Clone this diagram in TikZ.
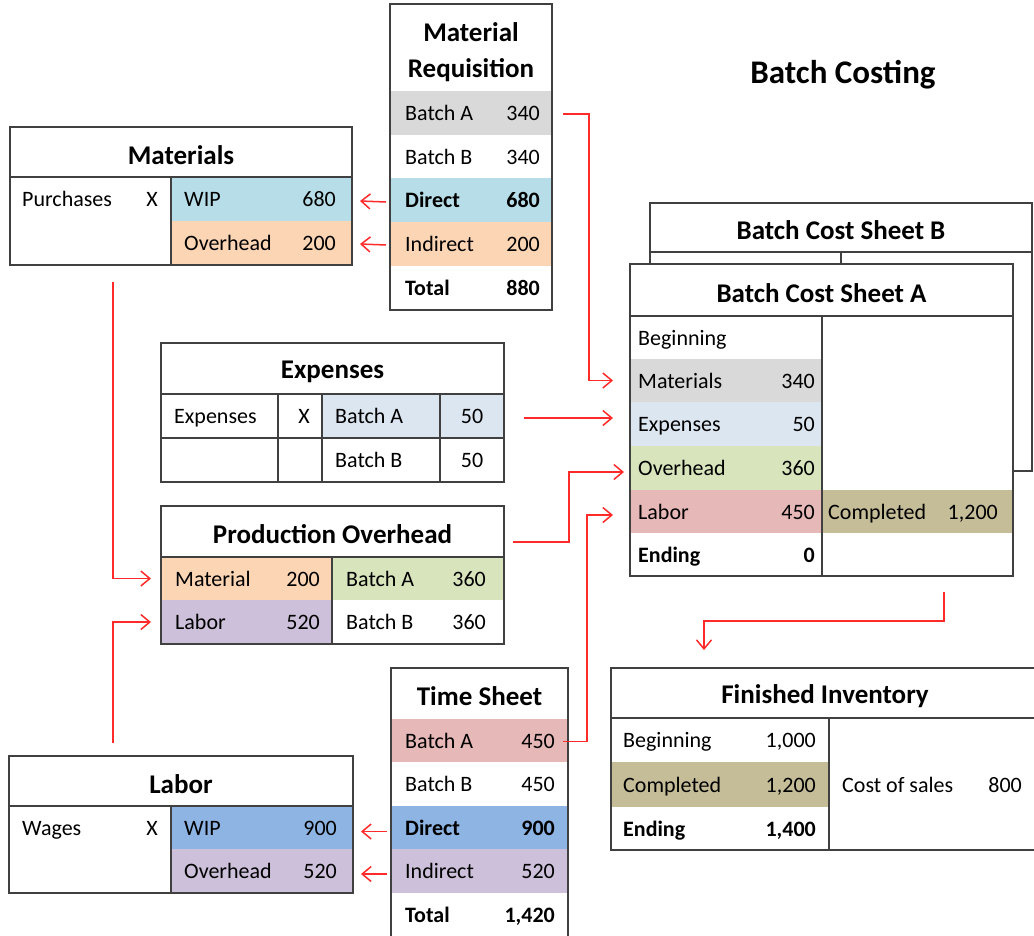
\documentclass[tikz,border=0pt]{standalone}
\usepackage{fontspec}
\setmainfont{Carlito}
\usetikzlibrary{arrows.meta,calc}
\definecolor{cgray}{HTML}{D9D9D9}
\definecolor{caqua}{HTML}{B7DEE8}
\definecolor{cpeach}{HTML}{FCD5B4}
\definecolor{cexp}{HTML}{DCE6F1}
\definecolor{cgreen}{HTML}{D8E4BC}
\definecolor{cpink}{HTML}{E6B8B7}
\definecolor{clav}{HTML}{CCC0DA}
\definecolor{cblue}{HTML}{8DB4E2}
\definecolor{ctan}{HTML}{C4BD97}
\definecolor{cline}{HTML}{404040}
\definecolor{carrow}{HTML}{FF2A2A}
\newcommand{\mkcell}[6]{\node[cellbox,fill=#6,minimum width={#4pt-#2pt},minimum height={#5pt-#3pt},anchor=north west] (#1) at (#2,#3) {};}
\tikzset{
  cellbox/.style={draw=none,inner sep=0pt,outer sep=0pt,rectangle},
  frame/.style={draw=cline,line width=2pt},
  txt/.style={inner sep=0pt,text height=1.45ex,text depth=.3ex,yshift=-5pt,font=\fontsize{22}{24}\selectfont},
  btxt/.style={txt,font=\fontsize{22}{24}\selectfont\bfseries},
  ttl/.style={inner sep=0pt,align=center,yshift=-3pt,font=\fontsize{27}{36}\selectfont\bfseries},
  arr/.style={draw=carrow,line width=1.5pt,-{Straight Barb[length=9pt,width=15pt]}},
}
\begin{document}
\begin{tikzpicture}[x=1pt,y=-1pt]
\useasboundingbox (0,0) rectangle (1034,935);
\clip (0,0) rectangle (1034,935);
\fill[white] (0,0) rectangle (1034,935);

% ---------------- Title
\node[inner sep=0pt,font=\fontsize{33}{38}\selectfont\bfseries] (maintitle) at (843,75) {Batch Costing};

% ---------------- Material Requisition
\mkcell{mrT}{390}{4}{552}{91}{white}
\mkcell{mrA}{390}{91}{552}{135}{cgray}
\mkcell{mrB}{390}{135}{552}{178}{white}
\mkcell{mrD}{390}{178}{552}{222}{caqua}
\mkcell{mrI}{390}{222}{552}{266}{cpeach}
\mkcell{mrTot}{390}{266}{552}{310}{white}
\draw[frame] (390,4) rectangle (552,310);
\node[ttl,yshift=-2pt] (mrTitle) at (mrT.center) {Material\\Requisition};
\node[txt,anchor=west] (mrAl) at ([xshift=15pt]mrA.west) {Batch A};
\node[txt,anchor=east] (mrAv) at ([xshift=-12pt]mrA.east) {340};
\node[txt,anchor=west] (mrBl) at ([xshift=15pt]mrB.west) {Batch B};
\node[txt,anchor=east] (mrBv) at ([xshift=-12pt]mrB.east) {340};
\node[btxt,anchor=west] (mrDl) at ([xshift=15pt]mrD.west) {Direct};
\node[btxt,anchor=east] (mrDv) at ([xshift=-12pt]mrD.east) {680};
\node[txt,anchor=west] (mrIl) at ([xshift=15pt]mrI.west) {Indirect};
\node[txt,anchor=east] (mrIv) at ([xshift=-12pt]mrI.east) {200};
\node[btxt,anchor=west] (mrTl) at ([xshift=15pt]mrTot.west) {Total};
\node[btxt,anchor=east] (mrTv) at ([xshift=-12pt]mrTot.east) {880};

% ---------------- Materials
\mkcell{matT}{10}{127}{352}{177}{white}
\mkcell{matL}{10}{177}{171}{265}{white}
\mkcell{matW}{171}{177}{352}{221}{caqua}
\mkcell{matO}{171}{221}{352}{265}{cpeach}
\draw[frame] (10,127) rectangle (352,265);
\draw[frame] (matT.south west) -- (matT.south east);
\draw[frame] (matL.north east) -- (matL.south east);
\node[ttl] (matTitle) at (matT.center) {Materials};
\node[txt,anchor=west] (matPl) at ($(matL.north west)+(12,22)$) {Purchases};
\node[txt,anchor=center] (matPx) at ($(matL.north west)+(142,22)$) {X};
\node[txt,anchor=west] (matWl) at ([xshift=13pt]matW.west) {WIP};
\node[txt,anchor=east] (matWv) at ([xshift=-16pt]matW.east) {680};
\node[txt,anchor=west] (matOl) at ([xshift=13pt]matO.west) {Overhead};
\node[txt,anchor=east] (matOv) at ([xshift=-16pt]matO.east) {200};

% ---------------- Expenses
\mkcell{expT}{161}{343}{504}{394}{white}
\mkcell{e11}{161}{394}{278}{438}{white}
\mkcell{e12}{278}{394}{322}{438}{white}
\mkcell{e13}{322}{394}{440}{438}{cexp}
\mkcell{e14}{440}{394}{504}{438}{cexp}
\mkcell{e21}{161}{438}{278}{482}{white}
\mkcell{e22}{278}{438}{322}{482}{white}
\mkcell{e23}{322}{438}{440}{482}{white}
\mkcell{e24}{440}{438}{504}{482}{white}
\draw[frame] (161,343) rectangle (504,482);
\draw[frame] (expT.south west) -- (expT.south east);
\draw[frame] (e11.south west) -- (e14.south east);
\draw[frame] (e12.north west) -- (e22.south west);
\draw[frame] (e13.north west) -- (e23.south west);
\draw[frame] (e14.north west) -- (e24.south west);
\node[ttl] (expTitle) at (expT.center) {Expenses};
\node[txt,anchor=west] (e11t) at ([xshift=13pt]e11.west) {Expenses};
\node[txt,anchor=east] (e12t) at ([xshift=-12pt]e12.east) {X};
\node[txt,anchor=west] (e13t) at ([xshift=13pt]e13.west) {Batch A};
\node[txt] (e14t) at (e14.center) {50};
\node[txt,anchor=west] (e23t) at ([xshift=13pt]e23.west) {Batch B};
\node[txt] (e24t) at (e24.center) {50};

% ---------------- Production Overhead
\mkcell{poT}{161}{506}{504}{557}{white}
\mkcell{poM}{161}{557}{332}{600}{cpeach}
\mkcell{poL}{161}{600}{332}{644}{clav}
\mkcell{poA}{332}{557}{504}{600}{cgreen}
\mkcell{poB}{332}{600}{504}{644}{white}
\draw[frame] (161,506) rectangle (504,644);
\draw[frame] (poT.south west) -- (poT.south east);
\draw[frame] (poA.north west) -- (poB.south west);
\node[ttl] (poTitle) at (poT.center) {Production Overhead};
\node[txt,anchor=west] (poMl) at ([xshift=14pt]poM.west) {Material};
\node[txt,anchor=east] (poMv) at ([xshift=-12pt]poM.east) {200};
\node[txt,anchor=west] (poLl) at ([xshift=14pt]poL.west) {Labor};
\node[txt,anchor=east] (poLv) at ([xshift=-12pt]poL.east) {520};
\node[txt,anchor=west] (poAl) at ([xshift=14pt]poA.west) {Batch A};
\node[txt,anchor=east] (poAv) at ([xshift=-18pt]poA.east) {360};
\node[txt,anchor=west] (poBl) at ([xshift=14pt]poB.west) {Batch B};
\node[txt,anchor=east] (poBv) at ([xshift=-18pt]poB.east) {360};

% ---------------- Batch Cost Sheet B
\mkcell{cbT}{650}{203}{1032}{252}{white}
\mkcell{cbBody}{650}{252}{1032}{471}{white}
\draw[frame] (650,203) rectangle (1032,471);
\draw[frame] (cbT.south west) -- (cbT.south east);
\draw[frame] (cbT.south) -- (cbBody.south);
\node[ttl] (cbTitle) at (cbT.center) {Batch Cost Sheet B};

% ---------------- Batch Cost Sheet A
\mkcell{caT}{630}{264}{1013}{316}{white}
\mkcell{caBeg}{630}{316}{822}{359}{white}
\mkcell{caMat}{630}{359}{822}{402}{cgray}
\mkcell{caExp}{630}{402}{822}{446}{cexp}
\mkcell{caOvh}{630}{446}{822}{490}{cgreen}
\mkcell{caLab}{630}{490}{822}{533}{cpink}
\mkcell{caEnd}{630}{533}{822}{576}{white}
\mkcell{caR1}{822}{316}{1013}{490}{white}
\mkcell{caCom}{822}{490}{1013}{533}{ctan}
\mkcell{caR3}{822}{533}{1013}{576}{white}
\draw[frame] (630,264) rectangle (1013,576);
\draw[frame] (caT.south west) -- (caT.south east);
\draw[frame] (caR1.north west) -- (caR3.south west);
\node[ttl] (caTitle) at (caT.center) {Batch Cost Sheet A};
\node[txt,anchor=west] (caBegl) at ([xshift=8pt]caBeg.west) {Beginning};
\node[txt,anchor=west] (caMatl) at ([xshift=8pt]caMat.west) {Materials};
\node[txt,anchor=east] (caMatv) at ([xshift=-7pt]caMat.east) {340};
\node[txt,anchor=west] (caExpl) at ([xshift=8pt]caExp.west) {Expenses};
\node[txt,anchor=east] (caExpv) at ([xshift=-7pt]caExp.east) {50};
\node[txt,anchor=west] (caOvhl) at ([xshift=8pt]caOvh.west) {Overhead};
\node[txt,anchor=east] (caOvhv) at ([xshift=-7pt]caOvh.east) {360};
\node[txt,anchor=west] (caLabl) at ([xshift=8pt]caLab.west) {Labor};
\node[txt,anchor=east] (caLabv) at ([xshift=-7pt]caLab.east) {450};
\node[btxt,anchor=west] (caEndl) at ([xshift=8pt]caEnd.west) {Ending};
\node[btxt,anchor=east] (caEndv) at ([xshift=-7pt]caEnd.east) {0};
\node[txt,anchor=west] (caComl) at ([xshift=6pt]caCom.west) {Completed};
\node[txt,anchor=east] (caComv) at ([xshift=-15pt]caCom.east) {1,200};

% ---------------- Finished Inventory
\mkcell{fiT}{611}{668}{1045}{718}{white}
\mkcell{fiBeg}{611}{718}{829}{762}{white}
\mkcell{fiCom}{611}{762}{829}{807}{ctan}
\mkcell{fiEnd}{611}{807}{829}{850}{white}
\mkcell{fiR}{829}{718}{1045}{850}{white}
\draw[frame] (611,668) rectangle (1045,850);
\draw[frame] (fiT.south west) -- (fiT.south east);
\draw[frame] (fiR.north west) -- (fiR.south west);
\node[ttl] (fiTitle) at (825,693) {Finished Inventory};
\node[txt,anchor=west] (fiBegl) at ([xshift=12pt]fiBeg.west) {Beginning};
\node[txt,anchor=east] (fiBegv) at ([xshift=-13pt]fiBeg.east) {1,000};
\node[txt,anchor=west] (fiComl) at ([xshift=12pt]fiCom.west) {Completed};
\node[txt,anchor=east] (fiComv) at ([xshift=-13pt]fiCom.east) {1,200};
\node[btxt,anchor=west] (fiEndl) at ([xshift=12pt]fiEnd.west) {Ending};
\node[btxt,anchor=east] (fiEndv) at ([xshift=-13pt]fiEnd.east) {1,400};
\node[txt,anchor=west] (fiCsl) at (842,785) {Cost of sales};
\node[txt,anchor=east] (fiCsv) at (1022,785) {800};

% ---------------- Labor
\mkcell{labT}{9}{756}{353}{806}{white}
\mkcell{labL}{9}{806}{171}{893}{white}
\mkcell{labW}{171}{806}{353}{849}{cblue}
\mkcell{labO}{171}{849}{353}{893}{clav}
\draw[frame] (9,756) rectangle (353,893);
\draw[frame] (labT.south west) -- (labT.south east);
\draw[frame] (labL.north east) -- (labL.south east);
\node[ttl] (labTitle) at (labT.center) {Labor};
\node[txt,anchor=west] (labWgl) at ($(labL.north west)+(13,22)$) {Wages};
\node[txt,anchor=center] (labWgx) at ($(labL.north west)+(143,22)$) {X};
\node[txt,anchor=west] (labWl) at ([xshift=13pt]labW.west) {WIP};
\node[txt,anchor=east] (labWv) at ([xshift=-16pt]labW.east) {900};
\node[txt,anchor=west] (labOl) at ([xshift=13pt]labO.west) {Overhead};
\node[txt,anchor=east] (labOv) at ([xshift=-16pt]labO.east) {520};

% ---------------- Time Sheet
\mkcell{tsT}{391}{668}{568}{719}{white}
\mkcell{tsA}{391}{719}{568}{762}{cpink}
\mkcell{tsB}{391}{762}{568}{806}{white}
\mkcell{tsD}{391}{806}{568}{849}{cblue}
\mkcell{tsI}{391}{849}{568}{893}{clav}
\mkcell{tsTot}{391}{893}{568}{936}{white}
\draw[frame] (391,668) rectangle (568,960);
\node[ttl] (tsTitle) at (tsT.center) {Time Sheet};
\node[txt,anchor=west] (tsAl) at ([xshift=14pt]tsA.west) {Batch A};
\node[txt,anchor=east] (tsAv) at ([xshift=-13pt]tsA.east) {450};
\node[txt,anchor=west] (tsBl) at ([xshift=14pt]tsB.west) {Batch B};
\node[txt,anchor=east] (tsBv) at ([xshift=-13pt]tsB.east) {450};
\node[btxt,anchor=west] (tsDl) at ([xshift=14pt]tsD.west) {Direct};
\node[btxt,anchor=east] (tsDv) at ([xshift=-13pt]tsD.east) {900};
\node[txt,anchor=west] (tsIl) at ([xshift=14pt]tsI.west) {Indirect};
\node[txt,anchor=east] (tsIv) at ([xshift=-13pt]tsI.east) {520};
\node[btxt,anchor=west] (tsTl) at ([xshift=14pt]tsTot.west) {Total};
\node[btxt,anchor=east] (tsTv) at ([xshift=-13pt]tsTot.east) {1,420};

% ---------------- Connectors
\draw[arr] ([xshift=-4pt,yshift=-2pt]mrD.west) -- ([xshift=8pt,yshift=-2pt]matW.east);
\draw[arr] ([xshift=-4pt,yshift=-1pt]mrI.west) -- ([xshift=8pt,yshift=-1pt]matO.east);
\draw[arr] ([xshift=11pt,yshift=-1pt]mrA.east) -- ++(26,0) |- ([xshift=-17pt]caMat.west);
\draw[arr] ([xshift=20pt,yshift=-2pt]e14.east) coordinate (s4) -- ([xshift=-17pt]caExp.west |- s4);
\draw[arr] ([xshift=9pt,yshift=-10.5pt]poT.east) -- ++(56,0) |- ([xshift=-6pt,yshift=-4pt]caOvh.west);
\draw[arr] ([xshift=-5pt,yshift=-1pt]tsA.east) -- ++(24,0) |- ([xshift=-17pt,yshift=-3.5pt]caLab.west);
\draw[arr] ([xshift=22.5pt,yshift=-17pt]matL.south) |- ([xshift=-10pt]poM.west);
\draw[arr] ([xshift=-68pt,yshift=13pt]labT.north) |- ([xshift=-10pt]poL.west);
\draw[arr] ([xshift=-4pt,yshift=-4pt]tsD.west) -- ([xshift=8pt,yshift=-4pt]labW.east);
\draw[arr] ([xshift=-4pt,yshift=-3pt]tsI.west) -- ([xshift=8pt,yshift=-3pt]labO.east);
\draw[arr] ([xshift=26.5pt,yshift=-16pt]caR3.south) -- ++(0,29) -| ([xshift=-124pt,yshift=18pt]fiT.north);
\end{tikzpicture}
\end{document}
